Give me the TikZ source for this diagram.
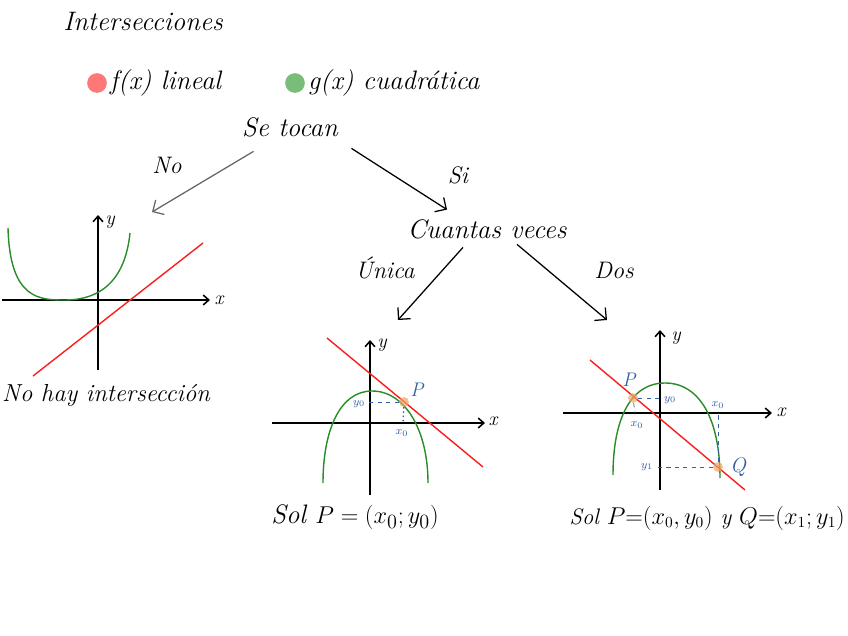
\documentclass[tikz,border=0pt]{standalone}
\usepackage{tikz}
\usetikzlibrary{positioning,arrows.meta,calc}
\definecolor{dotred}{RGB}{255,120,120}
\definecolor{dotgreen}{RGB}{120,190,120}
\definecolor{curvegreen}{RGB}{40,140,40}
\definecolor{linered}{RGB}{250,30,30}
\definecolor{markblue}{RGB}{50,95,165}
\definecolor{markorange}{RGB}{240,165,100}
\tikzset{
  hand/.style={font=\fontsize{19}{22}\selectfont\itshape, inner sep=1pt},
  tag/.style={font=\fontsize{17}{20}\selectfont\itshape, inner sep=1pt},
  axis/.style={line width=1.1pt, -{Straight Barb[length=4pt,width=7pt]}},
  axlab/.style={font=\fontsize{14}{16}\selectfont\itshape, inner sep=1pt},
  quad/.style={curvegreen, line width=1pt},
  lin/.style={linered, line width=1pt},
  guide/.style={markblue, dashed, line width=0.5pt},
  small/.style={markblue, font=\fontsize{8}{9}\selectfont\itshape, inner sep=1pt},
  flow/.style={line width=0.9pt, -{Straight Barb[length=6pt,width=12pt]}},
  touch/.style={circle, fill=markorange, fill opacity=0.7, minimum size=7pt, inner sep=0pt},
  legend/.style={circle, minimum size=14pt, inner sep=0pt},
}
\begin{document}
\begin{tikzpicture}[x=0.025cm,y=-0.025cm]
\useasboundingbox (0,0) rectangle (848,636);

% titulo y leyenda
\node[hand] (titulo) at (143,22) {Intersecciones};
\node[legend,fill=dotred] (fdot) at (97,83) {};
\node[hand,right=1pt of fdot] (flin) {f(x) lineal};
\node[legend,fill=dotgreen] (gdot) at (295,83) {};
\node[hand,right=1pt of gdot] (gcuad) {g(x) cuadrática};

% preguntas
\node[hand] (tocan) at (290,127) {Se tocan};
\node[hand] (cuantas) at (487,229) {Cuantas veces};

\coordinate (noend) at (152,212);
\coordinate (unicaend) at (398,320);
\coordinate (dosend) at (607,320);

\draw[flow,gray!80!black] ([shift={(13,13)}]tocan.south west) -- (noend);
\draw[flow] ([shift={(12,10)}]tocan.south east) -- ([shift={(-40,-8)}]cuantas.north);
\draw[flow] ([shift={(-24,7)}]cuantas.south) -- (unicaend);
\draw[flow] ([shift={(30,4)}]cuantas.south) -- (dosend);

\node[tag] (no) at (167,165) {No};
\node[tag] (si) at (458,175) {Si};
\node[tag] (unica) at (385,268) {Única};
\node[tag] (dos) at (614,270) {Dos};

% sin interseccion
\draw[axis] (2,300) -- (210,300);
\draw[axis] (98,370) -- (98,215);
\node[axlab] (xa) at (219,300) {x};
\node[axlab] (ya) at (110,222) {y};
\draw[quad] (8,228) .. controls (10,300) and (40,300) .. (65,300)
  .. controls (88,300) and (124,292) .. (130,233);
\draw[lin] (33,376) -- (203,243);
\node[hand,font=\fontsize{17.5}{20}\selectfont\itshape] (nohay) at (106,395) {No hay intersección};

% una interseccion
\draw[axis] (272,423) -- (485,423);
\draw[axis] (370,495) -- (370,340);
\node[axlab] (xb) at (493,421) {x};
\node[axlab] (yb) at (382,345) {y};
\draw[quad] (323,483) .. controls (323,430) and (340,391) .. (372,391)
  .. controls (405,391) and (428,430) .. (428,483);
\draw[lin] (327,338) -- (483,467);
\node[touch] (pb) at (404,402) {};
\draw[guide] (pb) -- (366,402);
\draw[markblue, dotted, line width=1pt] (pb) -- (403,423);
\node[small] (yb0) at (359,404) {$y_0$};
\node[small] (xb0) at (402,433) {$x_0$};
\node[axlab,markblue] (pbl) at (417,390) {P};
\node[hand] (solb) at (355,517) {Sol $P=(x_0;y_0)$};

% dos intersecciones
\draw[axis] (563,413) -- (772,413);
\draw[axis] (660,490) -- (660,330);
\node[axlab] (xc) at (781,412) {x};
\node[axlab] (yc) at (676,338) {y};
\draw[quad] (613,475) .. controls (613,420) and (630,383) .. (665,383)
  .. controls (700,383) and (720,420) .. (720,478);
\draw[lin] (590,360) -- (745,490);
\node[touch] (pc) at (633,398) {};
\node[touch] (qc) at (718,467) {};
\draw[guide] (pc) -- (662,398);
\draw[guide] (pc) -- (635,413);
\draw[guide] (qc) -- (654,467);
\draw[guide] (qc) -- (718,413);
\node[small] (yc0) at (670,400) {$y_0$};
\node[small] (xc0) at (637,425) {$x_0$};
\node[small] (xc1) at (718,405) {$x_0$};
\node[small] (yc1) at (647,467) {$y_1$};
\node[axlab,markblue] (pcl) at (629,380) {P};
\node[axlab,markblue,font=\fontsize{15}{17}\selectfont\itshape] (qcl) at (738,467) {Q};
\node[hand,anchor=west,font=\fontsize{16}{19}\selectfont\itshape] (solc) at (568,518) {Sol $P{=}(x_0,y_0)$ y $Q{=}(x_1;y_1)$};
\end{tikzpicture}
\end{document}
